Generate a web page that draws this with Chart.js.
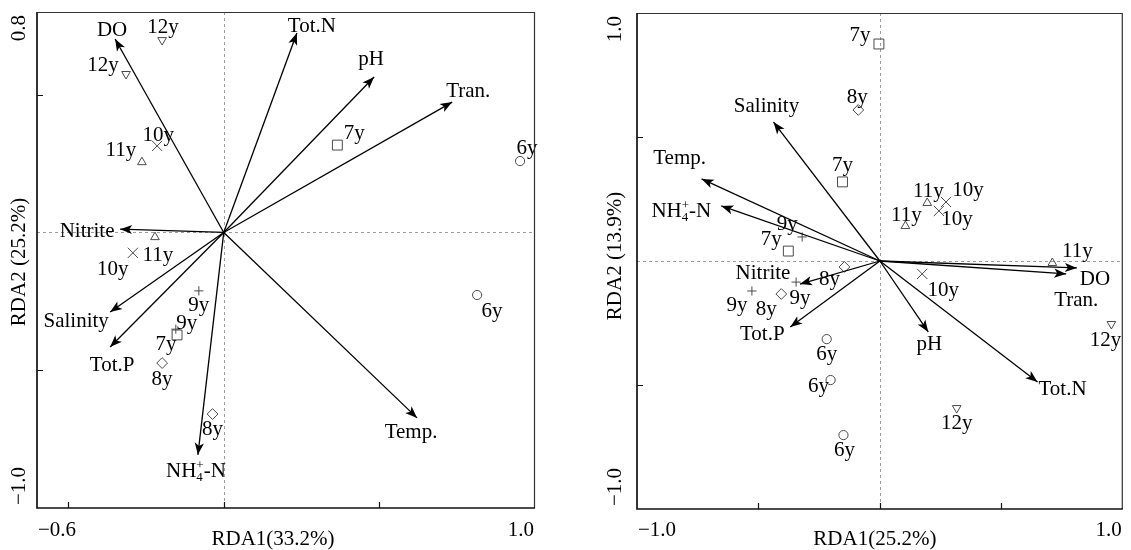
<!DOCTYPE html>
<html><head><meta charset="utf-8">
<script src="https://cdn.jsdelivr.net/npm/chart.js@4.4.0/dist/chart.umd.min.js"></script>
<style>
html,body{margin:0;padding:0;background:#fff;}
#wrap{position:relative;width:1131px;height:550px;overflow:hidden;background:#fff;}
canvas{position:absolute;top:0;}
</style></head><body>
<div id="wrap">
<canvas id="c1" width="565" height="550" style="left:0px"></canvas>
<canvas id="c2" width="566" height="550" style="left:565px"></canvas>
</div>
<script>
// ---------------- DATA: left panel ----------------
const leftXRange = [-0.6, 1.0];
const leftYRange = [-1.0, 0.8];
const leftXTitle = 'RDA1(33.2%)';
const leftYTitle = 'RDA2 (25.2%)';
const leftSiteNames = ['12y','12y','10y','11y','11y','10y','9y','9y','7y','8y','8y','7y','6y','6y'];
const leftSiteX = [-0.198,-0.314,-0.214,-0.263,-0.221,-0.292,-0.080,-0.154,-0.150,-0.198,-0.036,0.365,0.952,0.814];
const leftSiteY = [0.698,0.575,0.314,0.255,-0.017,-0.074,-0.212,-0.351,-0.372,-0.474,-0.659,0.317,0.259,-0.227];
const leftEnvNames = ['DO','Tot.N','pH','Tran.','Nitrite','Salinity','Tot.P','NH4+-N','Temp.'];
const leftEnvX = [-0.349,0.235,0.483,0.734,-0.333,-0.365,-0.365,-0.083,0.621];
const leftEnvY = [0.702,0.724,0.564,0.473,0.012,-0.289,-0.416,-0.807,-0.673];

// ---------------- DATA: right panel ----------------
const rightXRange = [-1.0, 1.0];
const rightYRange = [-1.0, 1.0];
const rightXTitle = 'RDA1(25.2%)';
const rightYTitle = 'RDA2 (13.9%)';
const rightSiteNames = ['7y','8y','7y','9y','7y','8y','9y','9y','8y','6y','6y','6y','11y','10y','10y','11y','11y','10y','12y','12y'];
const rightSiteX = [-0.004,-0.089,-0.154,-0.320,-0.377,-0.146,-0.345,-0.527,-0.406,-0.219,-0.203,-0.150,0.195,0.272,0.243,0.105,0.710,0.174,0.953,0.316];
const rightSiteY = [0.875,0.609,0.319,0.097,0.040,-0.024,-0.085,-0.121,-0.133,-0.315,-0.480,-0.702,0.234,0.238,0.202,0.141,-0.008,-0.052,-0.254,-0.593];
const rightEnvNames = ['Salinity','Temp.','NH4+-N','Nitrite','Tot.P','DO','Tran.','pH','Tot.N'];
const rightEnvX = [-0.438,-0.734,-0.653,-0.329,-0.369,0.811,0.767,0.199,0.649];
const rightEnvY = [0.560,0.331,0.222,-0.093,-0.266,-0.028,-0.052,-0.286,-0.488];

const tickMarksX = [-0.5, 0, 0.5];
const tickMarksY = [-0.5, 0.5];

// ---------------- LAYOUT (label placement in px, not data) ----------------
const leftSiteLabelOffset = [[1,-14],[-23,-10],[1,-12],[-21,-13],[3,17],[-20,15],[0,13],[11,-7],[-11,8],[0,15],[0,14],[17,-13],[7,-14],[15,15]];
const leftEnvLabelOffset = [[-3,-10],[15,-8],[-3,-19],[16,-12],[-33,1],[-34,8],[2,17],[-2,15],[-6,13]];
const rightSiteLabelOffset = [[-19,-10],[-1,-14],[0,-18],[-15,-14],[-17,-13],[-15,11],[4,15],[-15,13],[-15,14],[0,14],[-12,5],[1,14],[1,-13],[22,-13],[18,7],[1,-12],[25,-13],[21,15],[-6,15],[0,14]];
const rightEnvLabelOffset = [[-7,-17],[-22,-22],[-40,4],[-37,-12],[-28,6],[18,10],[10,25],[1,11],[25,6]];

const FONT_FAMILY = '"Liberation Serif", "Times New Roman", Times, serif';
const FONT_SIZE = 21;
const MARK_COLOR = '#4a4a4a';

const markerStyles = {
  '6y':  {pointStyle:'circle',   radius:4.6, rotation:0},
  '7y':  {pointStyle:'rect',     radius:7.0, rotation:0},
  '8y':  {pointStyle:'rectRot',  radius:5.4, rotation:0},
  '9y':  {pointStyle:'cross',    radius:4.6, rotation:0},
  '10y': {pointStyle:'crossRot', radius:7.2, rotation:0},
  '11y': {pointStyle:'triangle', radius:5.0, rotation:0},
  '12y': {pointStyle:'triangle', radius:5.0, rotation:180}
};

function drawText(ctx, text, cx, cy) {
  // cx, cy = visual centre of the cap height
  const base = cy + 7;
  if (text === 'NH4+-N') {
    ctx.font = FONT_SIZE + 'px ' + FONT_FAMILY;
    const w1 = ctx.measureText('NH').width;
    const w2 = ctx.measureText('-N').width;
    ctx.font = '13px ' + FONT_FAMILY;
    const ws = Math.max(ctx.measureText('+').width, ctx.measureText('4').width);
    const total = w1 + ws + w2;
    const sx = cx - total / 2;
    ctx.textAlign = 'left';
    ctx.font = FONT_SIZE + 'px ' + FONT_FAMILY;
    ctx.fillText('NH', sx, base);
    ctx.font = '13px ' + FONT_FAMILY;
    ctx.fillText('+', sx + w1, base - 8);
    ctx.fillText('4', sx + w1, base + 4);
    ctx.font = FONT_SIZE + 'px ' + FONT_FAMILY;
    ctx.fillText('-N', sx + w1 + ws, base);
    ctx.textAlign = 'center';
    return;
  }
  ctx.font = FONT_SIZE + 'px ' + FONT_FAMILY;
  ctx.textAlign = 'center';
  ctx.fillText(text, cx, base);
}

function fmt(v) { return (v < 0 ? '\u2212' : '') + Math.abs(v).toFixed(1); }

const rdaPlugin = {
  id: 'rda',
  beforeDatasetsDraw(chart) {
    const {ctx, chartArea: a, scales: {x, y}} = chart;
    const x0 = Math.round(x.getPixelForValue(0)) + 0.5;
    const y0 = Math.round(y.getPixelForValue(0)) + 0.5;
    ctx.save();
    ctx.strokeStyle = '#9c9c9c';
    ctx.lineWidth = 1;
    ctx.setLineDash([3, 3]);
    ctx.beginPath();
    ctx.moveTo(x0, a.top); ctx.lineTo(x0, a.bottom);
    ctx.moveTo(a.left, y0); ctx.lineTo(a.right, y0);
    ctx.stroke();
    ctx.restore();
  },
  afterDatasetsDraw(chart) {
    const {ctx, chartArea: a, scales: {x, y}} = chart;
    const P = chart.options.plugins.rda;
    ctx.save();
    // arrowheads
    chart.data.datasets.forEach((ds, i) => {
      if (!ds.isArrow) return;
      const meta = chart.getDatasetMeta(i);
      const p0 = meta.data[0], p1 = meta.data[1];
      const dx = p1.x - p0.x, dy = p1.y - p0.y;
      const L = Math.hypot(dx, dy);
      const ux = dx / L, uy = dy / L;
      const px = -uy, py = ux;
      const len = 12, hw = 4.6, notch = 3;
      ctx.fillStyle = '#000';
      ctx.beginPath();
      ctx.moveTo(p1.x, p1.y);
      ctx.lineTo(p1.x - ux * len + px * hw, p1.y - uy * len + py * hw);
      ctx.lineTo(p1.x - ux * (len - notch), p1.y - uy * (len - notch));
      ctx.lineTo(p1.x - ux * len - px * hw, p1.y - uy * len - py * hw);
      ctx.closePath();
      ctx.fill();
    });
    // labels
    ctx.fillStyle = '#000';
    ctx.textBaseline = 'alphabetic';
    P.siteNames.forEach((n, i) => {
      const cx = x.getPixelForValue(P.siteX[i]) + P.siteOff[i][0];
      const cy = y.getPixelForValue(P.siteY[i]) + P.siteOff[i][1];
      drawText(ctx, n, cx, cy);
    });
    P.envNames.forEach((n, i) => {
      const cx = x.getPixelForValue(P.envX[i]) + P.envOff[i][0];
      const cy = y.getPixelForValue(P.envY[i]) + P.envOff[i][1];
      drawText(ctx, n, cx, cy);
    });
    // frame
    ctx.strokeStyle = '#333';
    ctx.lineWidth = 1.2;
    ctx.beginPath();
    ctx.moveTo(a.left, a.top + 0.5); ctx.lineTo(a.right, a.top + 0.5);
    ctx.moveTo(a.right - 0.5, a.top); ctx.lineTo(a.right - 0.5, a.bottom);
    ctx.stroke();
    ctx.strokeStyle = '#111';
    ctx.lineWidth = 1.7;
    ctx.beginPath();
    ctx.moveTo(a.left, a.top); ctx.lineTo(a.left, a.bottom); ctx.lineTo(a.right, a.bottom);
    ctx.stroke();
    // inward tick marks
    ctx.lineWidth = 1.2;
    ctx.beginPath();
    tickMarksX.forEach(v => {
      const px = Math.round(x.getPixelForValue(v)) + 0.5;
      ctx.moveTo(px, a.bottom); ctx.lineTo(px, a.bottom - 6);
    });
    tickMarksY.forEach(v => {
      const py = Math.round(y.getPixelForValue(v)) + 0.5;
      ctx.moveTo(a.left, py); ctx.lineTo(a.left + 6, py);
    });
    ctx.stroke();
    // axis extent labels
    ctx.font = FONT_SIZE + 'px ' + FONT_FAMILY;
    ctx.textBaseline = 'alphabetic';
    ctx.textAlign = 'left';
    ctx.fillText(fmt(x.min), a.left + 1, 536);
    ctx.textAlign = 'right';
    ctx.fillText(fmt(x.max), a.right - 1, 536);
    // x title
    ctx.textAlign = 'center';
    ctx.fillText(P.xTitle, (a.left + a.right) / 2 + P.xTitleShift, 545);
    // y labels (rotated)
    const yl = a.left - P.yLabelGap;
    ctx.textBaseline = 'middle';
    ctx.save(); ctx.translate(yl, a.top + 3); ctx.rotate(-Math.PI / 2);
    ctx.textAlign = 'right'; ctx.fillText(fmt(y.max), 0, 0); ctx.restore();
    ctx.save(); ctx.translate(yl, a.bottom - 3); ctx.rotate(-Math.PI / 2);
    ctx.textAlign = 'left'; ctx.fillText(fmt(y.min), 0, 0); ctx.restore();
    ctx.save(); ctx.translate(yl, (a.top + a.bottom) / 2 + P.yTitleShift); ctx.rotate(-Math.PI / 2);
    ctx.textAlign = 'center'; ctx.fillText(P.yTitle, 0, 0); ctx.restore();
    ctx.restore();
  }
};

function buildDatasets(siteNames, siteX, siteY, envX, envY) {
  const ds = [];
  envX.forEach((vx, i) => {
    ds.push({
      isArrow: true,
      showLine: true,
      data: [{x: 0, y: 0}, {x: vx, y: envY[i]}],
      borderColor: '#000',
      borderWidth: 1.3,
      pointRadius: 0,
      pointHoverRadius: 0,
      fill: false
    });
  });
  const groups = [...new Set(siteNames)];
  groups.forEach(g => {
    const st = markerStyles[g];
    const pts = [];
    siteNames.forEach((n, i) => { if (n === g) pts.push({x: siteX[i], y: siteY[i]}); });
    ds.push({
      data: pts,
      showLine: false,
      pointStyle: st.pointStyle,
      pointRadius: st.radius,
      pointHoverRadius: st.radius,
      pointRotation: st.rotation,
      pointBorderColor: MARK_COLOR,
      pointBackgroundColor: 'rgba(0,0,0,0)',
      pointBorderWidth: 1,
      borderColor: MARK_COLOR,
      backgroundColor: 'rgba(0,0,0,0)'
    });
  });
  return ds;
}

function makeChart(id, cfg) {
  return new Chart(document.getElementById(id), {
    type: 'scatter',
    data: {datasets: buildDatasets(cfg.siteNames, cfg.siteX, cfg.siteY, cfg.envX, cfg.envY)},
    options: {
      responsive: false,
      animation: false,
      devicePixelRatio: 1,
      layout: {padding: cfg.padding},
      scales: {
        x: {type: 'linear', min: cfg.xRange[0], max: cfg.xRange[1], display: false},
        y: {type: 'linear', min: cfg.yRange[0], max: cfg.yRange[1], display: false}
      },
      plugins: {
        legend: {display: false},
        tooltip: {enabled: false},
        rda: {
          siteNames: cfg.siteNames, siteX: cfg.siteX, siteY: cfg.siteY, siteOff: cfg.siteOff,
          envNames: cfg.envNames, envX: cfg.envX, envY: cfg.envY, envOff: cfg.envOff,
          xTitle: cfg.xTitle, yTitle: cfg.yTitle,
          xTitleShift: cfg.xTitleShift, yTitleShift: cfg.yTitleShift, yLabelGap: cfg.yLabelGap
        }
      }
    },
    plugins: [rdaPlugin]
  });
}

makeChart('c1', {
  siteNames: leftSiteNames, siteX: leftSiteX, siteY: leftSiteY, siteOff: leftSiteLabelOffset,
  envNames: leftEnvNames, envX: leftEnvX, envY: leftEnvY, envOff: leftEnvLabelOffset,
  xRange: leftXRange, yRange: leftYRange, xTitle: leftXTitle, yTitle: leftYTitle,
  padding: {left: 37, right: 30, top: 12, bottom: 42},
  xTitleShift: -13, yTitleShift: 2, yLabelGap: 18
});
makeChart('c2', {
  siteNames: rightSiteNames, siteX: rightSiteX, siteY: rightSiteY, siteOff: rightSiteLabelOffset,
  envNames: rightEnvNames, envX: rightEnvX, envY: rightEnvY, envOff: rightEnvLabelOffset,
  xRange: rightXRange, yRange: rightYRange, xTitle: rightXTitle, yTitle: rightYTitle,
  padding: {left: 72, right: 1, top: 13, bottom: 41},
  xTitleShift: -5, yTitleShift: -5, yLabelGap: 22
});
</script>
</body></html>
